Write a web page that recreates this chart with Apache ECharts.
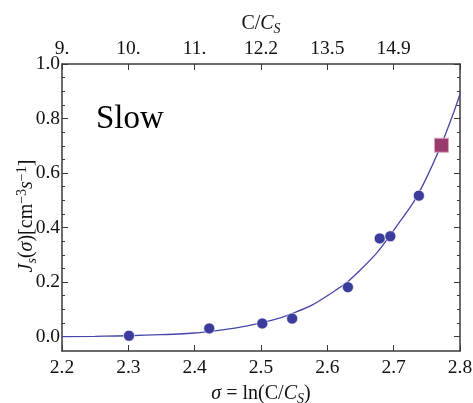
<!DOCTYPE html>
<html>
<head>
<meta charset="utf-8">
<script src="https://cdn.jsdelivr.net/npm/echarts@6/dist/echarts.min.js"></script>
<style>
html,body{margin:0;padding:0;background:#fff;}
#c{width:473px;height:403px;}
</style>
</head>
<body>
<div id="c"></div>
<script>
// Tick values and labels
const sigmaTicks = [2.2, 2.3, 2.4, 2.5, 2.6, 2.7, 2.8];
const ratioTickLabels = ['9.', '10.', '11.', '12.2', '13.5', '14.9', ''];
const jMajorTicks = [0, 0.2, 0.4, 0.6, 0.8, 1.0];
const jMinorTicks = [0.05, 0.1, 0.15, 0.25, 0.3, 0.35, 0.45, 0.5, 0.55, 0.65, 0.7, 0.75, 0.85, 0.9, 0.95];

// Measured points (circles)
const sigmaData = [2.301, 2.422, 2.502, 2.547, 2.631, 2.679, 2.695, 2.738];
const jData     = [0.003, 0.030, 0.048, 0.066, 0.181, 0.360, 0.368, 0.517];

// Highlighted point (square)
const squareSigma = [2.772];
const squareJ     = [0.702];

// Fitted curve
const fitSigma = [2.2,   2.25,  2.3,   2.35,  2.4,   2.45,  2.5,   2.55,  2.6,   2.65,  2.7,   2.75,  2.8];
const fitJ     = [0.000, 0.001, 0.003, 0.007, 0.013, 0.027, 0.050, 0.087, 0.150, 0.245, 0.390, 0.585, 0.890];

const serif = "'Liberation Serif', 'Times New Roman', Times, serif";
const txt = '#111';
const frame = '#3a3a3a';
const tickFont = 19.5;

function zip(a, b) { return a.map((v, i) => [v, b[i]]); }

const richBase = {
  n: { fontFamily: serif, fontSize: 20, color: txt },
  i: { fontFamily: serif, fontSize: 20, fontStyle: 'italic', color: txt },
  sub: { fontFamily: serif, fontSize: 14, fontStyle: 'italic', color: txt, padding: [10, 0, 0, 0] },
  sup: { fontFamily: serif, fontSize: 14, color: txt, padding: [0, 0, 10, 0] }
};

const chart = echarts.init(document.getElementById('c'));
chart.setOption({
  animation: false,
  backgroundColor: '#fff',
  grid: { left: 62, right: 13, top: 64, bottom: 52, outerBoundsMode: 'none', containLabel: false },
  xAxis: [
    {
      type: 'value', position: 'bottom', min: 2.2, max: 2.8, interval: 0.1,
      axisLine: { show: true, onZero: false, lineStyle: { color: frame, width: 1.5 } },
      axisTick: { show: true, inside: true, length: 6, lineStyle: { color: frame, width: 1 } },
      splitLine: { show: false },
      axisLabel: { color: txt, fontFamily: serif, fontSize: tickFont, margin: 7,
        formatter: v => v.toFixed(1) },
      name: '{i|σ}{n| = ln(C/}{i|C}{sub|S}{n|)}',
      nameLocation: 'middle', nameGap: 31, nameMoveOverlap: false,
      nameTextStyle: { fontFamily: serif, fontSize: 20, color: txt, rich: richBase }
    },
    {
      type: 'value', position: 'top', min: 2.2, max: 2.8, interval: 0.1,
      axisLine: { show: true, onZero: false, lineStyle: { color: frame, width: 1.5 } },
      axisTick: { show: true, inside: true, length: 6, lineStyle: { color: frame, width: 1 } },
      splitLine: { show: false },
      axisLabel: { color: txt, fontFamily: serif, fontSize: tickFont, margin: 5,
        formatter: v => {
          const idx = sigmaTicks.findIndex(t => Math.abs(t - v) < 1e-6);
          return idx >= 0 ? ratioTickLabels[idx] : '';
        } },
      name: '{n|C/}{i|C}{sub|S}',
      nameLocation: 'middle', nameGap: 28, nameMoveOverlap: false,
      nameTextStyle: { fontFamily: serif, fontSize: 20, color: txt, rich: richBase }
    }
  ],
  yAxis: [
    {
      type: 'value', position: 'left', min: -0.053, max: 1.0,
      axisLine: { show: true, onZero: false, lineStyle: { color: frame, width: 1.5 } },
      axisTick: { show: true, inside: true, length: 6, customValues: jMajorTicks, lineStyle: { color: frame, width: 1 } },
      splitLine: { show: false },
      axisLabel: { color: txt, fontFamily: serif, fontSize: tickFont, margin: 2, customValues: jMajorTicks,
        formatter: v => v.toFixed(1) }
    },
    {
      type: 'value', position: 'left', min: -0.053, max: 1.0,
      axisLine: { show: false },
      axisTick: { show: true, inside: true, length: 3, customValues: jMinorTicks, lineStyle: { color: frame, width: 1 } },
      splitLine: { show: false },
      axisLabel: { show: false }
    },
    {
      type: 'value', position: 'right', min: -0.053, max: 1.0,
      axisLine: { show: true, onZero: false, lineStyle: { color: frame, width: 1.5 } },
      axisTick: { show: true, inside: true, length: 6, customValues: jMajorTicks, lineStyle: { color: frame, width: 1 } },
      splitLine: { show: false },
      axisLabel: { show: false }
    },
    {
      type: 'value', position: 'right', min: -0.053, max: 1.0,
      axisLine: { show: false },
      axisTick: { show: true, inside: true, length: 3, customValues: jMinorTicks, lineStyle: { color: frame, width: 1 } },
      splitLine: { show: false },
      axisLabel: { show: false }
    }
  ],
  graphic: [
    { type: 'text', left: 96, top: 103, style: { text: 'Slow', fontFamily: serif, fontSize: 33, fill: '#000' } },
    { type: 'text', x: 27, y: 216, rotation: Math.PI / 2,
      style: { text: '{i|J}{sub|s}{n|(}{i|σ}{n|)[cm}{sup|−3}{i|s}{sup|−1}{n|]}',
        rich: richBase, align: 'center', verticalAlign: 'middle', fontFamily: serif, fontSize: 20, fill: txt } }
  ],
  series: [
    {
      type: 'line', xAxisIndex: 0, yAxisIndex: 0, data: zip(fitSigma, fitJ),
      smooth: 0.5, showSymbol: false, symbol: 'none',
      lineStyle: { color: '#4646a8', width: 1.3 }, z: 2
    },
    {
      type: 'scatter', xAxisIndex: 0, yAxisIndex: 0, data: zip(sigmaData, jData),
      symbol: 'circle', symbolSize: 11,
      itemStyle: { color: '#3c3c9c', borderColor: '#ffffff', borderWidth: 0.6, opacity: 1 }, z: 3
    },
    {
      type: 'scatter', xAxisIndex: 0, yAxisIndex: 0, data: zip(squareSigma, squareJ),
      symbol: 'rect', symbolSize: 14,
      itemStyle: { color: '#993a6c', borderColor: '#d9a3bf', borderWidth: 1, opacity: 1 }, z: 4
    }
  ]
});
</script>
</body>
</html>
